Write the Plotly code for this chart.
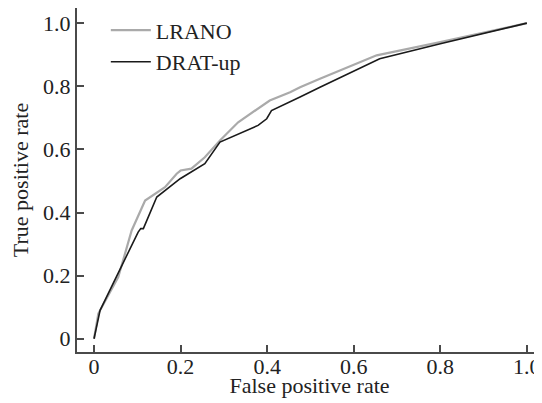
import plotly.graph_objects as go

lrano_fpr = [0.0, 0.01, 0.056, 0.087, 0.118, 0.164, 0.191, 0.200, 0.225, 0.256, 0.291, 0.333, 0.406, 0.453, 0.476, 0.522, 0.653, 0.80, 1.0]
lrano_tpr = [0.0, 0.08, 0.195, 0.343, 0.438, 0.480, 0.523, 0.533, 0.539, 0.575, 0.628, 0.686, 0.755, 0.781, 0.797, 0.824, 0.898, 0.940, 1.0]

drat_fpr = [0.0, 0.014, 0.102, 0.108, 0.114, 0.145, 0.199, 0.256, 0.291, 0.379, 0.399, 0.410, 0.476, 0.522, 0.660, 0.80, 1.0]
drat_tpr = [0.0, 0.090, 0.338, 0.349, 0.349, 0.449, 0.507, 0.555, 0.623, 0.676, 0.697, 0.723, 0.766, 0.797, 0.887, 0.935, 1.0]

tick_vals = [0, 0.2, 0.4, 0.6, 0.8, 1.0]
tick_text = ["0", "0.2", "0.4", "0.6", "0.8", "1.0"]

font = dict(family="Liberation Serif, Times New Roman, serif", size=22, color="#222")

fig = go.Figure()
fig.add_trace(go.Scatter(x=lrano_fpr, y=lrano_tpr, mode="lines", name="LRANO",
                         line=dict(color="#aaaaaa", width=2.2)))
fig.add_trace(go.Scatter(x=drat_fpr, y=drat_tpr, mode="lines", name="DRAT-up",
                         line=dict(color="#1a1a1a", width=1.6)))

axis_common = dict(showgrid=False, zeroline=False, showline=True, linecolor="#4a4a4a",
                   linewidth=2, ticks="inside", ticklen=7, tickwidth=1.5, tickcolor="#4a4a4a",
                   tickvals=tick_vals, ticktext=tick_text, tickfont=font, automargin=False,
                   ticklabeloverflow="allow")

# page body has an 8px margin, so the figure is sized/offset to compensate
fig.update_layout(
    width=534, height=390,
    margin=dict(l=69, r=0, t=0, b=46),
    paper_bgcolor="white", plot_bgcolor="white",
    font=font,
    xaxis=dict(range=[-0.0393, 1.035], ticklabelstandoff=-6,
               title=dict(text="False positive rate", font=font, standoff=4), **axis_common),
    yaxis=dict(range=[-0.042, 1.048],
               title=dict(text="True positive rate", font=font, standoff=13), **axis_common),
    legend=dict(x=0.062, y=0.996, xanchor="left", yanchor="top", bgcolor="rgba(0,0,0,0)",
                font=font, itemwidth=40, tracegroupgap=0),
    showlegend=True,
)

fig.write_html("out.html")
